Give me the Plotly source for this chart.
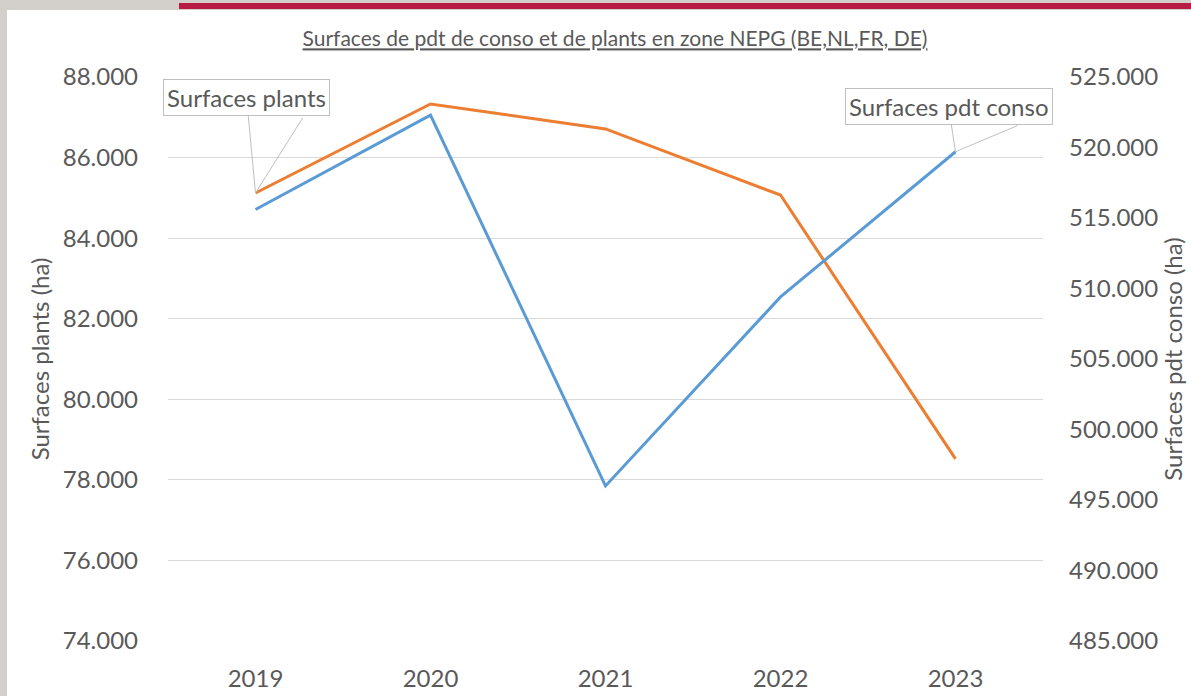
import plotly.graph_objects as go

years = ["2019", "2020", "2021", "2022", "2023"]
plants = [85120, 87330, 86710, 85070, 78520]
conso = [515600, 522300, 496000, 509400, 519700]

left_ticks = [74000, 76000, 78000, 80000, 82000, 84000, 86000, 88000]
right_ticks = [485000, 490000, 495000, 500000, 505000, 510000, 515000, 520000, 525000]

W, H = 1191, 696
L, R, T, B = 168, 1043, 77, 641

def px(x):
    return (x - L) / (R - L)

def py(y):
    return (B - y) / (B - T)

txt = "#595959"
font = "Lato, 'Open Sans', sans-serif"

fig = go.Figure()
fig.add_trace(go.Scatter(x=years, y=conso, mode="lines", name="Surfaces pdt conso",
                         line=dict(color="#5B9BD5", width=3), yaxis="y2"))
fig.add_trace(go.Scatter(x=years, y=plants, mode="lines", name="Surfaces plants",
                         line=dict(color="#ED7D31", width=3)))

i0, i4 = 0, len(years) - 1
ann = []
# Surfaces plants callout
ann.append(dict(x=i0, y=plants[i0], xref="x", yref="y", text="Surfaces plants",
                showarrow=True, arrowhead=0, arrowwidth=1, arrowcolor="#bfbfbf",
                ax=-9, ay=-96, bordercolor="#bfbfbf", borderwidth=1, borderpad=3,
                bgcolor="white", font=dict(size=24, color=txt, family=font)))
ann.append(dict(x=i0, y=plants[i0], xref="x", yref="y", text=" ",
                showarrow=True, arrowhead=0, arrowwidth=1, arrowcolor="#bfbfbf",
                ax=49, ay=-78, font=dict(size=2)))
# Surfaces pdt conso callout
ann.append(dict(x=i4, y=conso[i4], xref="x", yref="y2", text="Surfaces pdt conso",
                showarrow=True, arrowhead=0, arrowwidth=1, arrowcolor="#bfbfbf",
                ax=-7, ay=-45, bordercolor="#bfbfbf", borderwidth=1, borderpad=3,
                bgcolor="white", font=dict(size=24, color=txt, family=font)))
ann.append(dict(x=i4, y=conso[i4], xref="x", yref="y2", text=" ",
                showarrow=True, arrowhead=0, arrowwidth=1, arrowcolor="#bfbfbf",
                ax=64, ay=-27, font=dict(size=2)))

shapes = [
    dict(type="rect", xref="paper", yref="paper", x0=px(7), x1=px(W + 5), y0=py(H + 5), y1=py(10),
         fillcolor="white", line=dict(width=0), layer="below"),
    dict(type="rect", xref="paper", yref="paper", x0=px(179), x1=px(W + 5), y0=py(9), y1=py(3),
         fillcolor="#B91C43", line=dict(width=0), layer="below"),
]

fig.update_layout(
    width=W, height=H,
    margin=dict(l=L, r=W - R, t=T, b=H - B, autoexpand=False),
    paper_bgcolor="#D3D0CB", plot_bgcolor="rgba(0,0,0,0)",
    separators=",.",
    showlegend=False,
    title=dict(text="<u>Surfaces de pdt de conso et de plants en zone NEPG (BE,NL,FR, DE)</u>",
               x=(300 + 930) / 2 / W, xanchor="center", y=1 - 39 / H, yanchor="middle",
               font=dict(size=21, color=txt, family=font)),
    xaxis=dict(type="category", range=[-0.5, 4.5], showgrid=False, showline=False, ticks="",
               automargin=False,
               tickfont=dict(size=24, color=txt, family=font), ticklabelstandoff=21),
    yaxis=dict(range=[74000, 88000], tickvals=left_ticks, tickformat=",.0f", automargin=False,
               showgrid=True, gridcolor="#D9D9D9", gridwidth=1, zeroline=False, showline=False,
               tickfont=dict(size=24, color=txt, family=font), ticklabelstandoff=29,
               title=dict(text="Surfaces plants (ha)", font=dict(size=24, color=txt, family=font),
                          standoff=6)),
    yaxis2=dict(range=[485000, 525000], tickvals=right_ticks, tickformat=",.0f", automargin=False,
                overlaying="y", side="right", showgrid=False, zeroline=False, showline=False,
                tickfont=dict(size=24, color=txt, family=font), ticklabelstandoff=25,
                title=dict(text="Surfaces pdt conso (ha)", font=dict(size=24, color=txt, family=font),
                           standoff=2)),
    annotations=ann,
    shapes=shapes,
)

fig.write_html("out.html", config={"displayModeBar": False},
               post_script="document.body.style.margin='0';")
